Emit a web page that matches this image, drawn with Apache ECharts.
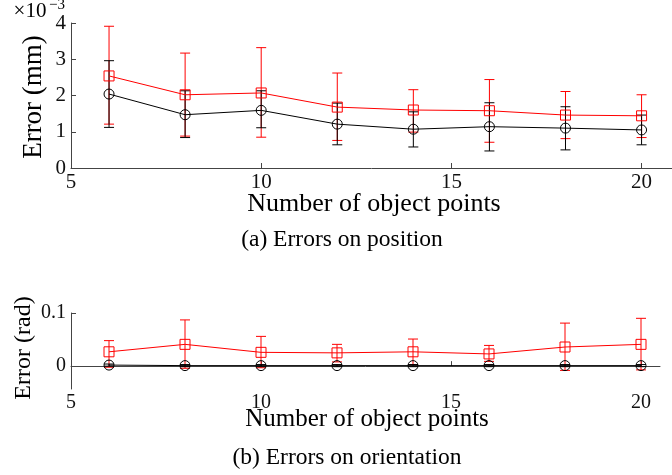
<!DOCTYPE html>
<html><head><meta charset="utf-8">
<script src="https://cdn.jsdelivr.net/npm/echarts@6/dist/echarts.min.js"></script>
<style>html,body{margin:0;padding:0;background:#fff}#c{width:672px;height:475px}</style>
</head><body><div id="c"></div>
<script>
// ---- data ----
const points = [6, 8, 10, 12, 14, 16, 18, 20];
const xTicks = [5, 10, 15, 20];
const posTicks = [0, 1, 2, 3, 4];
const oriTicks = [0, 0.1];

const posRedMean   = [2.54, 2.02, 2.07, 1.68, 1.60, 1.58, 1.46, 1.44];
const posRedLow    = [1.21, 0.88, 0.85, 0.76, 0.99, 0.71, 0.81, 0.84];
const posRedHigh   = [3.91, 3.17, 3.32, 2.62, 2.16, 2.44, 2.11, 2.02];
const posBlackMean = [2.04, 1.47, 1.59, 1.21, 1.07, 1.14, 1.10, 1.05];
const posBlackLow  = [1.12, 0.84, 1.11, 0.64, 0.58, 0.47, 0.50, 0.64];
const posBlackHigh = [2.96, 2.13, 2.13, 1.79, 1.55, 1.80, 1.69, 1.46];

const oriRedMean   = [0.027, 0.041, 0.026, 0.025, 0.027, 0.023, 0.036, 0.041];
const oriRedLow    = [-0.002, -0.004, -0.003, 0.008, 0.003, 0.009, -0.008, -0.007];
const oriRedHigh   = [0.048, 0.087, 0.056, 0.041, 0.051, 0.039, 0.081, 0.090];
const oriBlackMean = [0.002, 0.001, 0.001, 0.001, 0.001, 0.001, 0.001, 0.001];
const oriBlackLow  = [0.000, -0.001, -0.001, -0.001, -0.001, -0.001, -0.001, -0.001];
const oriBlackHigh = [0.004, 0.003, 0.003, 0.003, 0.003, 0.003, 0.003, 0.003];

// ---- styling ----
const FONT = 'Liberation Serif';
const RED = '#ff0000';
const BLACK = '#000000';
const AXIS = '#444444';

function errorBars(gi, color, low, high) {
  return {
    type: 'custom', xAxisIndex: gi, yAxisIndex: gi, z: 3, silent: true,
    data: points.map((x, i) => [x, low[i], high[i]]),
    encode: { x: 0, y: [1, 2] },
    renderItem: function (params, api) {
      const lo = api.coord([api.value(0), api.value(1)]);
      const hi = api.coord([api.value(0), api.value(2)]);
      const w = 5;
      const st = { stroke: color, lineWidth: 1 };
      return { type: 'group', children: [
        { type: 'line', shape: { x1: lo[0], y1: lo[1], x2: hi[0], y2: hi[1] }, style: st },
        { type: 'line', shape: { x1: lo[0] - w, y1: lo[1], x2: lo[0] + w, y2: lo[1] }, style: st },
        { type: 'line', shape: { x1: hi[0] - w, y1: hi[1], x2: hi[0] + w, y2: hi[1] }, style: st }
      ]};
    }
  };
}
function meanLine(gi, color, symbol, means) {
  return {
    type: 'line', xAxisIndex: gi, yAxisIndex: gi, z: 4, silent: true,
    data: points.map((x, i) => [x, means[i]]),
    symbol: symbol, symbolSize: 10, showAllSymbol: true,
    lineStyle: { color: color, width: 1 },
    itemStyle: { color: 'rgba(0,0,0,0)', borderColor: color, borderWidth: 1 },
    animation: false
  };
}
function xAxisCfg(gi, max) {
  return {
    type: 'value', gridIndex: gi, min: 5, max: max,
    axisLine: { show: true, lineStyle: { color: AXIS, width: 1 } },
    axisTick: { show: true, inside: true, length: 5, customValues: xTicks, lineStyle: { color: AXIS } },
    axisLabel: { customValues: xTicks, fontFamily: FONT, fontSize: gi === 0 ? 21 : 20, color: '#111', margin: 4 },
    splitLine: { show: false }
  };
}
function yAxisCfg(gi, min, max, ticks) {
  return {
    type: 'value', gridIndex: gi, min: min, max: max,
    axisLine: { show: true, lineStyle: { color: AXIS, width: 1 } },
    axisTick: { show: true, inside: true, length: 5, customValues: ticks, lineStyle: { color: AXIS } },
    axisLabel: { customValues: ticks, fontFamily: FONT, fontSize: gi === 0 ? 21 : 20, color: '#111', margin: 5 },
    splitLine: { show: false }
  };
}
function txt(x, y, text, size, rot) {
  return { type: 'text', x: x, y: y, rotation: rot || 0,
    style: { text: text, font: size + 'px "' + FONT + '"', fill: '#000', align: 'center', verticalAlign: 'middle' } };
}

const chart = echarts.init(document.getElementById('c'), null, { renderer: 'canvas' });
chart.setOption({
  animation: false,
  backgroundColor: '#fff',
  grid: [
    { left: 71, top: 23, width: 601, height: 145 },
    { left: 71, top: 313, width: 589, height: 76 }
  ],
  xAxis: [xAxisCfg(0, 20.8), xAxisCfg(1, 20.5)],
  yAxis: [yAxisCfg(0, 0, 4, posTicks), yAxisCfg(1, -0.043, 0.1, oriTicks)],
  series: [
    errorBars(0, RED, posRedLow, posRedHigh),
    meanLine(0, RED, 'rect', posRedMean),
    errorBars(0, BLACK, posBlackLow, posBlackHigh),
    meanLine(0, BLACK, 'circle', posBlackMean),
    errorBars(1, RED, oriRedLow, oriRedHigh),
    meanLine(1, RED, 'rect', oriRedMean),
    errorBars(1, BLACK, oriBlackLow, oriBlackHigh),
    meanLine(1, BLACK, 'circle', oriBlackMean)
  ],
  graphic: [
    txt(30, 11, '×10', 21),
    txt(57, 5, '−3', 15),
    txt(34, 97, 'Error (mm)', 27, Math.PI / 2),
    txt(374, 204, 'Number of object points', 26),
    txt(342, 240, '(a) Errors on position', 23.5),
    txt(24, 348, 'Error (rad)', 24, Math.PI / 2),
    txt(367, 419, 'Number of object points', 25),
    txt(347, 458, '(b) Errors on orientation', 23.5)
  ]
});
</script>
</body></html>
